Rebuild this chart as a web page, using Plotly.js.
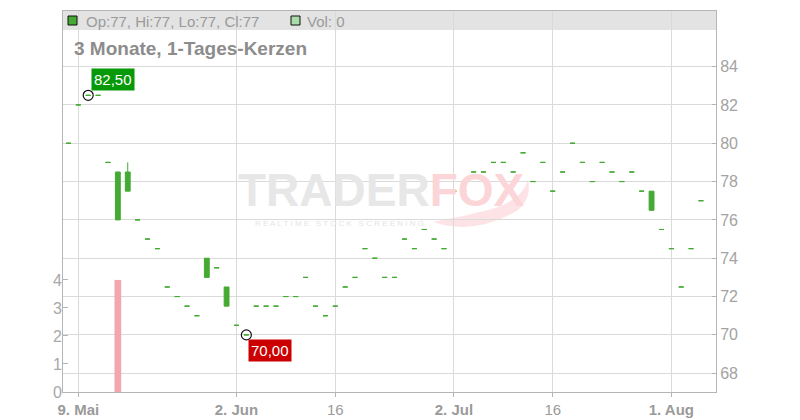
<!DOCTYPE html>
<html><head><meta charset="utf-8">
<script src="https://cdn.plot.ly/plotly-3.0.1.min.js"></script>
<style>html,body{margin:0;padding:0;background:#fff}#chart{width:800px;height:420px}</style>
</head><body><div id="chart"></div>
<script>
// ---- data ----
const dates = [
 '2025-05-08','2025-05-09','2025-05-12','2025-05-13','2025-05-14','2025-05-15','2025-05-16',
 '2025-05-19','2025-05-20','2025-05-21','2025-05-22','2025-05-23','2025-05-26','2025-05-27',
 '2025-05-28','2025-05-29','2025-05-30','2025-06-02','2025-06-03','2025-06-04','2025-06-05',
 '2025-06-06','2025-06-09','2025-06-10','2025-06-11','2025-06-12','2025-06-13','2025-06-16',
 '2025-06-17','2025-06-18','2025-06-19','2025-06-20','2025-06-23','2025-06-24','2025-06-25',
 '2025-06-26','2025-06-27','2025-06-30','2025-07-01','2025-07-02','2025-07-03','2025-07-04',
 '2025-07-07','2025-07-08','2025-07-09','2025-07-10','2025-07-11','2025-07-14','2025-07-15',
 '2025-07-16','2025-07-17','2025-07-18','2025-07-21','2025-07-22','2025-07-23','2025-07-24',
 '2025-07-25','2025-07-28','2025-07-29','2025-07-30','2025-07-31','2025-08-01','2025-08-04',
 '2025-08-05','2025-08-06'];
const opens = [80,82,82.5,82.5,79,76,77.5,76,75,74.5,72.5,72,71.5,71,73,73.5,71.5,70.5,70,71.5,71.5,
 71.5,72,72,73,71.5,71,71.5,72.5,73,74.5,74,73,73,75,74.5,75.5,75,74.5,77.5,77.5,78.5,
 78.5,79,79,78.5,79.5,78,79,77.5,78.5,80,79,78,79,78.5,78,78.5,77.5,76.5,75.5,74.5,72.5,74.5,77];
const highs = [80,82,82.5,82.5,79,78.5,79,76,75,74.5,72.5,72,71.5,71,74,73.5,72.5,70.5,70,71.5,71.5,
 71.5,72,72,73,71.5,71,71.5,72.5,73,74.5,74,73,73,75,74.5,75.5,75,74.5,77.5,77.5,78.5,
 78.5,79,79,78.5,79.5,78,79,77.5,78.5,80,79,78,79,78.5,78,78.5,77.5,77.5,75.5,74.5,72.5,74.5,77];
const lows = [80,82,82.5,82.5,79,76,77.5,76,75,74.5,72.5,72,71.5,71,73,73.5,71.5,70.5,70,71.5,71.5,
 71.5,72,72,73,71.5,71,71.5,72.5,73,74.5,74,73,73,75,74.5,75.5,75,74.5,77.5,77.5,78.5,
 78.5,79,79,78.5,79.5,78,79,77.5,78.5,80,79,78,79,78.5,78,78.5,77.5,76.5,75.5,74.5,72.5,74.5,77];
const closes = [80,82,82.5,82.5,79,78.5,78.5,76,75,74.5,72.5,72,71.5,71,74,73.5,72.5,70.5,70,71.5,71.5,
 71.5,72,72,73,71.5,71,71.5,72.5,73,74.5,74,73,73,75,74.5,75.5,75,74.5,77.5,77.5,78.5,
 78.5,79,79,78.5,79.5,78,79,77.5,78.5,80,79,78,79,78.5,78,78.5,77.5,77.5,75.5,74.5,72.5,74.5,77];
const volumes = [0,0,0,0,0,4,0,0,0,0,0,0,0,0,0,0,0,0,0,0,0,0,0,0,0,0,0,0,0,0,0,0,0,0,0,0,0,0,0,0,0,0,
 0,0,0,0,0,0,0,0,0,0,0,0,0,0,0,0,0,0,0,0,0,0,0];
const tickDates = ['2025-05-09','2025-06-02','2025-06-16','2025-07-02','2025-07-16','2025-08-01'];
const tickLabels = ['<b>9. Mai</b>','<b>2. Jun</b>','16','<b>2. Jul</b>','16','<b>1. Aug</b>'];
const priceTicks = [68,70,72,74,76,78,80,82,84];
const volumeTicks = [0,1,2,3,4];
const chartTitle = '3 Monate, 1-Tages-Kerzen';

// ---- helpers ----
const L = 63, R = 716, T = 11, B = 392;
const px = x => (x - L) / (R - L);
const py = y => (B - y) / (B - T);
const fmt2 = v => v.toFixed(2).replace('.', ',');
const fmt = v => String(v).replace('.', ',');

const green = '#44aa33';
const hiVal = Math.max(...highs), hiIdx = highs.indexOf(hiVal);
const loVal = Math.min(...lows), loIdx = lows.indexOf(loVal);
const n = dates.length - 1;
const FONT = 'Liberation Sans, Arial, sans-serif';

const traces = [
  {type:'bar', x:dates, y:volumes, yaxis:'y2', marker:{color:'#f2a6ae'}, hoverinfo:'skip', showlegend:false},
  {type:'candlestick', x:dates, open:opens, high:highs, low:lows, close:closes,
   increasing:{line:{color:green, width:1}, fillcolor:green},
   decreasing:{line:{color:green, width:1}, fillcolor:green},
   whiskerwidth:0, hoverinfo:'skip', showlegend:false},
  {type:'scatter', mode:'markers', x:[dates[hiIdx], dates[loIdx]], y:[hiVal, loVal],
   marker:{symbol:'circle-open', size:10, color:'#111', line:{width:1.2}}, hoverinfo:'skip', showlegend:false}
];

const layout = {
  width:800, height:420,
  margin:{l:L, r:800-R, t:T, b:420-B, pad:0},
  paper_bgcolor:'#fff', plot_bgcolor:'#fff',
  showlegend:false, bargap:0.32,
  font:{family:FONT, color:'#999'},
  xaxis:{type:'category', range:[-0.55, 65.52], rangeslider:{visible:false},
    tickmode:'array', tickvals:tickDates, ticktext:tickLabels,
    showgrid:true, gridcolor:'#dadada', gridwidth:1,
    ticks:'outside', ticklen:4, tickcolor:'#b5b5b5',
    showline:true, mirror:true, linecolor:'#b5b5b5', linewidth:1,
    tickfont:{family:FONT, size:15, color:'#9a9a9a'}, fixedrange:true},
  yaxis:{side:'right', range:[67.02, 86.9], tickmode:'array', tickvals:priceTicks,
    showgrid:true, gridcolor:'#dadada', zeroline:false,
    ticks:'inside', ticklen:4, tickcolor:'#b5b5b5',
    showline:true, mirror:true, linecolor:'#b5b5b5', linewidth:1,
    tickfont:{family:FONT, size:16, color:'#a3a3a3'}},
  yaxis2:{overlaying:'y', side:'left', range:[0, 13.6], tickmode:'array', tickvals:volumeTicks,
    showgrid:false, zeroline:false, showline:false,
    ticks:'inside', ticklen:5, tickcolor:'#b5b5b5',
    tickfont:{family:FONT, size:16, color:'#a8a8a8'}},
  shapes:[
    {type:'rect', xref:'paper', yref:'paper', x0:0, x1:1, y0:py(30), y1:1, fillcolor:'#e3e3e3', line:{width:0}, layer:'below'},
    {type:'rect', xref:'paper', yref:'paper', x0:px(68), x1:px(77), y0:py(25), y1:py(16), fillcolor:green, line:{color:'#111', width:1}},
    {type:'rect', xref:'paper', yref:'paper', x0:px(291), x1:px(300), y0:py(25), y1:py(16), fillcolor:'#a9dca9', line:{color:'#111', width:1}},
    {type:'path', xref:'paper', yref:'paper', layer:'below', fillcolor:'rgba(251,200,206,0.5)', line:{width:0},
     path:`M ${px(433)},${py(222)} Q ${px(475)},${py(236)} ${px(518)},${py(210)} Q ${px(532)},${py(198)} ${px(528)},${py(180)} Q ${px(522)},${py(200)} ${px(492)},${py(209)} Q ${px(462)},${py(217)} ${px(433)},${py(222)} Z`}
  ],
  annotations:[
    {xref:'paper', yref:'paper', x:px(381), y:py(190), xanchor:'center', yanchor:'middle', showarrow:false,
     text:"<b>TRADER</b><span style='color:#fcd5d9'><b>FOX</b></span>", font:{family:FONT, size:46, color:'#e7e7e7'}},
    {xref:'paper', yref:'paper', x:px(339), y:py(223), xanchor:'center', yanchor:'middle', showarrow:false,
     text:'R E A L T I M E   S T O C K   S C R E E N I N G', font:{family:FONT, size:8, color:'#e4e4e4'}},
    {xref:'paper', yref:'paper', x:px(72), y:py(48), xanchor:'left', yanchor:'middle', showarrow:false,
     text:'<b>'+chartTitle+'</b>', font:{family:FONT, size:19, color:'#8c8c8c'}},
    {xref:'paper', yref:'paper', x:px(84), y:py(21), xanchor:'left', yanchor:'middle', showarrow:false,
     text:`Op:${fmt(opens[n])}, Hi:${fmt(highs[n])}, Lo:${fmt(lows[n])}, Cl:${fmt(closes[n])}`, font:{family:FONT, size:15, color:'#9a9a9a'}},
    {xref:'paper', yref:'paper', x:px(305), y:py(21), xanchor:'left', yanchor:'middle', showarrow:false,
     text:`Vol: ${volumes[n]}`, font:{family:FONT, size:15, color:'#9a9a9a'}},
    {x:dates[hiIdx], y:hiVal, xref:'x', yref:'y', xanchor:'left', yanchor:'bottom', xshift:3, yshift:4, showarrow:false,
     text:fmt2(hiVal), bgcolor:'#079907', borderpad:2, font:{family:FONT, size:15, color:'#fff'}},
    {x:dates[loIdx], y:loVal, xref:'x', yref:'y', xanchor:'left', yanchor:'top', xshift:2, yshift:-4, showarrow:false,
     text:fmt2(loVal), bgcolor:'#cc0000', borderpad:2, font:{family:FONT, size:15, color:'#fff'}}
  ]
};

Plotly.newPlot('chart', traces, layout, {displayModeBar:false, staticPlot:true});
</script>
</body></html>
